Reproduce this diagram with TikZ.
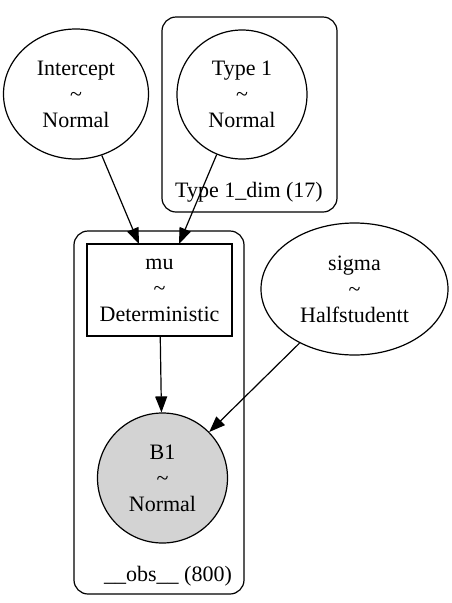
\documentclass[tikz,border=0pt]{standalone}
\usepackage{fontspec}
\setmainfont{Liberation Serif}
\usetikzlibrary{shapes.geometric,arrows.meta}
\definecolor{obsgray}{HTML}{D3D3D3}
\begin{document}
\begin{tikzpicture}[x=1pt,y=-1pt,
  every node/.style={font=\fontsize{22}{26}\selectfont, align=center, inner sep=0pt},
  ell/.style={draw, ellipse, line width=1.2pt},
  detbox/.style={draw, rectangle, line width=1.2pt},
  plate/.style={draw, rectangle, rounded corners=14pt, line width=1.2pt},
  edge/.style={-{Triangle[length=16pt,width=12pt]}, line width=1.2pt}]
\useasboundingbox (0,0) rectangle (451,603);
% plates
\node[plate, minimum width=175pt, minimum height=195pt] (p1) at (249.5,114.5) {};
\node (p1lab) at (249,192) {Type 1\_dim (17)};
\node[plate, minimum width=170pt, minimum height=363pt] (p2) at (159,412.5) {};
\node (p2lab) at (168,576) {\_\_obs\_\_ (800)};
% nodes
\node[ell, minimum width=145pt, minimum height=130pt] (int) at (76,94) {Intercept\\\textasciitilde\\Normal};
\node[ell, minimum width=130pt, minimum height=129pt] (t1) at (242,94.5) {Type 1\\\textasciitilde\\Normal};
\node[ell, minimum width=187pt, minimum height=132pt] (sig) at (354.5,289) {sigma\\\textasciitilde\\Halfstudentt};
\node[detbox, minimum width=145pt, minimum height=92pt] (mu) at (159.5,290) {mu\\\textasciitilde\\Deterministic};
\node[ell, fill=obsgray, minimum width=130pt, minimum height=130pt] (b1) at (162.5,478) {B1\\\textasciitilde\\Normal};
% edge endpoints
\coordinate (muin1) at (139,244);
\coordinate (muin2) at (179,244);
% edges
\draw[edge] (int) -- (muin1);
\draw[edge] (t1) -- (muin2);
\draw[edge] (mu) -- (b1);
\draw[edge] (sig) -- (b1);
\end{tikzpicture}
\end{document}
